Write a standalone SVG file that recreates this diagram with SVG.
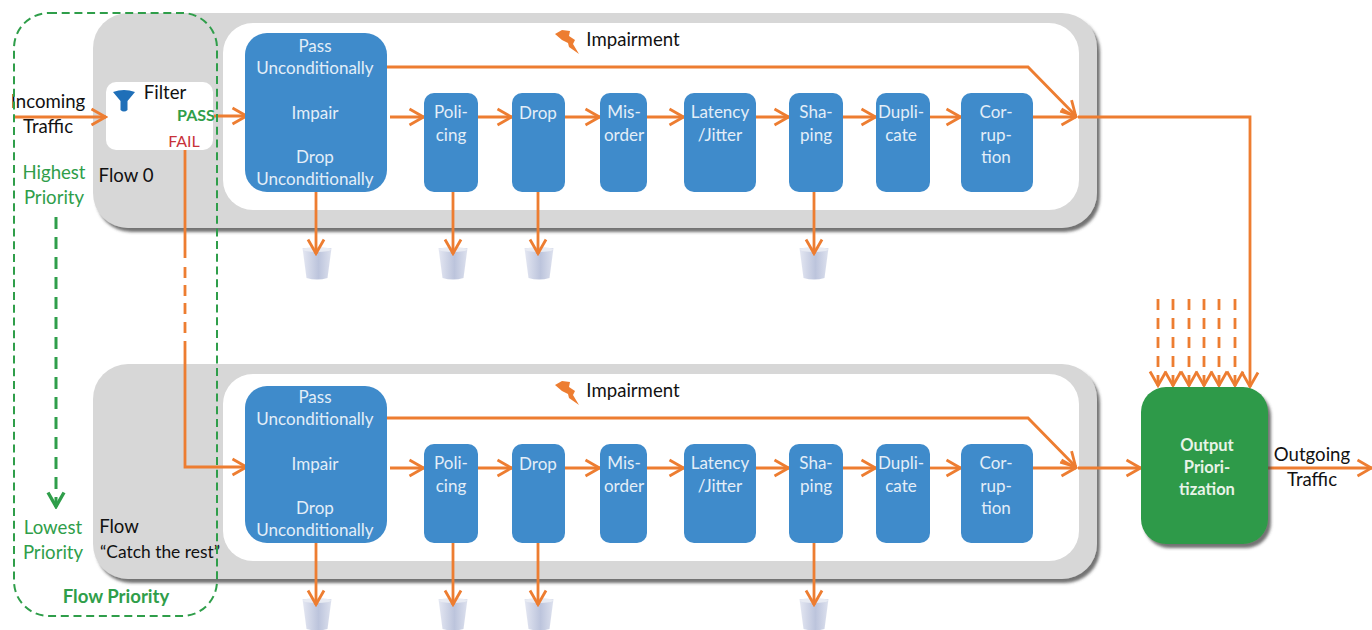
<svg xmlns="http://www.w3.org/2000/svg" width="1372" height="630" viewBox="0 0 1372 630">
<defs>
<style>
text{font-family:Lato,"Liberation Sans",sans-serif;font-size:18.6px;text-anchor:middle;fill:#111}
.w{fill:#e3eef8;font-size:17px}
.g{fill:#2f9e4a}
.b{font-weight:700}
.panel{fill:#d7d7d7;filter:url(#sh)}
.inner{fill:#fff}
.blue{fill:#3f8bcb}
.c{fill:none;stroke:#ed7d31;stroke-width:2.8}
.d{stroke-dasharray:11 8}
</style>
<filter id="sh" x="-5%" y="-5%" width="110%" height="112%"><feDropShadow dx="3" dy="4" stdDeviation="1.8" flood-color="#444" flood-opacity=".75"/></filter>
<marker id="a" viewBox="0 0 18 20" refX="16.5" refY="10" markerWidth="18" markerHeight="20" markerUnits="userSpaceOnUse" orient="auto"><path d="M2 2L16 10L2 18" fill="none" stroke="#ed7d31" stroke-width="2.8"/></marker>
<marker id="ag" viewBox="0 0 18 20" refX="16.5" refY="10" markerWidth="18" markerHeight="20" markerUnits="userSpaceOnUse" orient="auto"><path d="M2 2L16 10L2 18" fill="none" stroke="#2f9e4a" stroke-width="3.4"/></marker>
<linearGradient id="bk" x1="0" x2="1" y1="0" y2="0"><stop offset="0" stop-color="#e4e7f2"/><stop offset=".55" stop-color="#bcc4dc"/><stop offset="1" stop-color="#dde1ee"/></linearGradient>
<g id="bucket"><path d="M-14.500 0H14.500L10.500 30Q0 33 -10.500 30Z" fill="url(#bk)"/><ellipse cx="0" cy="1.500" rx="14" ry="2.500" fill="#e8ebf3"/></g>
<path id="bolt" d="M-12 -8L-5 -12L3 -11L2 -6L8 -2L6 2L12 12L2 5L1 1L-5 -2Z" fill="#ed7d31"/>
<path id="funnel" d="M-11 -8Q0 -12 11 -8L3.500 1V10Q0 13 -3.500 10V1Z" fill="#1f6fb8"/>
</defs>

<g id="panel-flow0"><rect class="panel" x="93" y="13" width="1004" height="215" rx="35"/><rect class="inner" x="223" y="23" width="856" height="187" rx="30"/></g>
<g id="panel-flow-rest"><rect class="panel" x="93" y="364" width="1004" height="215" rx="35"/><rect class="inner" x="223" y="374" width="856" height="187" rx="30"/></g>

<g id="filter"><rect class="inner" x="106" y="82" width="107" height="68" rx="10"/>
<use href="#funnel" x="124" y="100"/>
<text x="165" y="99">Filter</text><text class="g b" x="196" y="121" style="font-size:16px">PASS</text><text x="184" y="147" style="fill:#c8323a;font-size:16px">FAIL</text></g>
<text id="flow0-label" x="126" y="182">Flow 0</text>
<g id="flow-rest-label"><text x="119" y="533">Flow</text><text x="100" y="558" style="text-anchor:start;font-size:17.4px">“Catch the rest”</text></g>

<g id="impairment-0"><use href="#bolt" x="567" y="42"/><text x="633" y="46">Impairment</text></g>
<g id="impairment-1"><use href="#bolt" x="567" y="393"/><text x="633" y="397">Impairment</text></g>

<g id="buckets"><use href="#bucket" x="317" y="248"/><use href="#bucket" x="453" y="248"/><use href="#bucket" x="539" y="248"/><use href="#bucket" x="814" y="248"/><use href="#bucket" x="317" y="599"/><use href="#bucket" x="453" y="599"/><use href="#bucket" x="539" y="599"/><use href="#bucket" x="814" y="599"/></g>

<g id="connectors">
<path class="c" marker-end="url(#a)" d="M14 117H106"/>
<path class="c" marker-end="url(#a)" d="M214 116H247"/>
<path class="c" d="M185 150V258"/>
<path class="c" d="M185 267V278M185 285V296M185 303V314M185 322V333"/>
<path class="c" marker-end="url(#a)" d="M185 341V467H247"/>
<path class="c" marker-end="url(#a)" d="M387 67H1028L1076 116"/>
<path class="c" marker-end="url(#a)" d="M390 117H424"/><path class="c" marker-end="url(#a)" d="M478 117H512"/><path class="c" marker-end="url(#a)" d="M565 117H600"/><path class="c" marker-end="url(#a)" d="M647 117H684"/><path class="c" marker-end="url(#a)" d="M756 117H789"/><path class="c" marker-end="url(#a)" d="M843 117H876"/><path class="c" marker-end="url(#a)" d="M930 117H961"/><path class="c" marker-end="url(#a)" d="M1033 117H1076"/>
<path class="c" marker-end="url(#a)" d="M1078 117H1250V387"/>
<path class="c" marker-end="url(#a)" d="M316 192V254"/><path class="c" marker-end="url(#a)" d="M453 192V254"/><path class="c" marker-end="url(#a)" d="M538 192V254"/><path class="c" marker-end="url(#a)" d="M814 192V254"/>
<path class="c" marker-end="url(#a)" d="M387 418H1028L1076 467"/>
<path class="c" marker-end="url(#a)" d="M390 468H424"/><path class="c" marker-end="url(#a)" d="M478 468H512"/><path class="c" marker-end="url(#a)" d="M565 468H600"/><path class="c" marker-end="url(#a)" d="M647 468H684"/><path class="c" marker-end="url(#a)" d="M756 468H789"/><path class="c" marker-end="url(#a)" d="M843 468H876"/><path class="c" marker-end="url(#a)" d="M930 468H961"/><path class="c" marker-end="url(#a)" d="M1033 468H1076"/>
<path class="c" marker-end="url(#a)" d="M1078 468H1141"/>
<path class="c" marker-end="url(#a)" d="M1268 468H1372"/>
<path class="c" marker-end="url(#a)" d="M316 543V605"/><path class="c" marker-end="url(#a)" d="M453 543V605"/><path class="c" marker-end="url(#a)" d="M538 543V605"/><path class="c" marker-end="url(#a)" d="M814 543V605"/>
<path class="c d" marker-end="url(#a)" d="M1158 299V386"/><path class="c d" marker-end="url(#a)" d="M1173 299V386"/><path class="c d" marker-end="url(#a)" d="M1189 299V386"/><path class="c d" marker-end="url(#a)" d="M1204 299V386"/><path class="c d" marker-end="url(#a)" d="M1219 299V386"/><path class="c d" marker-end="url(#a)" d="M1235 299V386"/>
</g>

<g id="main-0"><rect class="blue" x="245" y="33" width="142" height="159" rx="22"/><text class="w" x="315" y="52">Pass</text><text class="w" x="315" y="74">Unconditionally</text><text class="w" x="315" y="119">Impair</text><text class="w" x="315" y="163">Drop</text><text class="w" x="315" y="185">Unconditionally</text></g>
<g id="policing-0"><rect class="blue" x="424" y="93" width="54" height="99" rx="10"/><text class="w" x="451" y="118">Poli-</text><text class="w" x="451" y="141">cing</text></g>
<g id="drop-0"><rect class="blue" x="512" y="93" width="53" height="99" rx="10"/><text class="w" x="538" y="119">Drop</text></g>
<g id="misorder-0"><rect class="blue" x="600" y="93" width="47" height="99" rx="10"/><text class="w" x="624" y="118">Mis-</text><text class="w" x="624" y="141">order</text></g>
<g id="latency-0"><rect class="blue" x="684" y="93" width="72" height="99" rx="10"/><text class="w" x="720" y="118">Latency</text><text class="w" x="720" y="141">/Jitter</text></g>
<g id="shaping-0"><rect class="blue" x="789" y="93" width="54" height="99" rx="10"/><text class="w" x="816" y="118">Sha-</text><text class="w" x="816" y="141">ping</text></g>
<g id="duplicate-0"><rect class="blue" x="876" y="93" width="54" height="99" rx="10"/><text class="w" x="901" y="118">Dupli-</text><text class="w" x="901" y="141">cate</text></g>
<g id="corruption-0"><rect class="blue" x="961" y="93" width="72" height="99" rx="10"/><text class="w" x="996" y="118">Cor-</text><text class="w" x="996" y="141">rup-</text><text class="w" x="996" y="163">tion</text></g>

<g id="main-1"><rect class="blue" x="245" y="386" width="142" height="157" rx="22"/><text class="w" x="315" y="403">Pass</text><text class="w" x="315" y="425">Unconditionally</text><text class="w" x="315" y="470">Impair</text><text class="w" x="315" y="514">Drop</text><text class="w" x="315" y="536">Unconditionally</text></g>
<g id="policing-1"><rect class="blue" x="424" y="444" width="54" height="99" rx="10"/><text class="w" x="451" y="469">Poli-</text><text class="w" x="451" y="492">cing</text></g>
<g id="drop-1"><rect class="blue" x="512" y="444" width="53" height="99" rx="10"/><text class="w" x="538" y="470">Drop</text></g>
<g id="misorder-1"><rect class="blue" x="600" y="444" width="47" height="99" rx="10"/><text class="w" x="624" y="469">Mis-</text><text class="w" x="624" y="492">order</text></g>
<g id="latency-1"><rect class="blue" x="684" y="444" width="72" height="99" rx="10"/><text class="w" x="720" y="469">Latency</text><text class="w" x="720" y="492">/Jitter</text></g>
<g id="shaping-1"><rect class="blue" x="789" y="444" width="54" height="99" rx="10"/><text class="w" x="816" y="469">Sha-</text><text class="w" x="816" y="492">ping</text></g>
<g id="duplicate-1"><rect class="blue" x="876" y="444" width="54" height="99" rx="10"/><text class="w" x="901" y="469">Dupli-</text><text class="w" x="901" y="492">cate</text></g>
<g id="corruption-1"><rect class="blue" x="961" y="444" width="72" height="99" rx="10"/><text class="w" x="996" y="469">Cor-</text><text class="w" x="996" y="492">rup-</text><text class="w" x="996" y="514">tion</text></g>

<g id="output-prioritization"><rect x="1141" y="387" width="127" height="157" rx="25" fill="#2e9a48" filter="url(#sh)"/><text class="b" x="1207" y="451" style="fill:#e8f3e8;font-size:16.5px">Output</text><text class="b" x="1207" y="473" style="fill:#e8f3e8;font-size:16.5px">Priori-</text><text class="b" x="1207" y="495" style="fill:#e8f3e8;font-size:16.5px">tization</text></g>
<g id="incoming"><text x="48" y="108">Incoming</text><text x="48" y="133">Traffic</text></g>
<g id="outgoing"><text x="1312" y="461">Outgoing</text><text x="1312" y="486">Traffic</text></g>

<g id="flow-priority">
<rect x="14" y="13" width="203" height="603" rx="35" fill="none" stroke="#2f9e4a" stroke-width="2" stroke-dasharray="8 4.700"/>
<text class="g" x="54" y="179">Highest</text><text class="g" x="54" y="204">Priority</text>
<path d="M56 217V507" fill="none" stroke="#2f9e4a" stroke-width="3" stroke-dasharray="12 8" marker-end="url(#ag)"/>
<text class="g" x="53" y="534">Lowest</text><text class="g" x="53" y="559">Priority</text>
<text class="g b" x="116" y="603">Flow Priority</text>
</g>
</svg>
